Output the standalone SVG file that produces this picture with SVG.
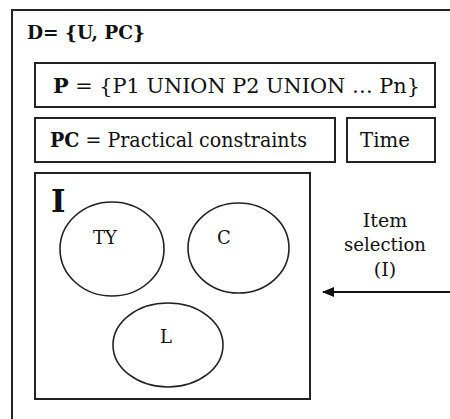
<svg xmlns="http://www.w3.org/2000/svg" width="450" height="419" viewBox="0 0 450 419">
  <defs>
    <style>
      .box { fill: none; stroke: #222; stroke-width: 2; }
      .set { fill: none; stroke: #222; stroke-width: 1.6; }
      .txt { font-family: "DejaVu Serif", "Liberation Serif", serif; fill: #111; }
      .b { font-weight: bold; }
      .conn { stroke: #111; stroke-width: 2; fill: none; }
    </style>
    <marker id="arrow" viewBox="0 0 12 10" refX="11" refY="5" markerWidth="12" markerHeight="10" markerUnits="userSpaceOnUse" orient="auto">
      <path d="M0,0 L12,5 L0,10 Z" fill="#111"/>
    </marker>
  </defs>
  <rect width="450" height="419" fill="#fff"/>

  <!-- domain D -->
  <g id="domain">
    <rect class="box" x="12" y="10" width="460" height="430"/>
    <text class="txt b" x="27" y="39" font-size="19" textLength="118" lengthAdjust="spacingAndGlyphs">D= {U, PC}</text>
  </g>

  <!-- P -->
  <g id="p-set">
    <rect class="box" x="35" y="63" width="400" height="44"/>
    <text class="txt" x="53" y="93" font-size="20.5" textLength="367" lengthAdjust="spacingAndGlyphs"><tspan class="b">P</tspan> = {P1 UNION P2 UNION … Pn}</text>
  </g>

  <!-- PC -->
  <g id="pc">
    <rect class="box" x="35" y="118" width="300" height="44"/>
    <text class="txt" x="50" y="147" font-size="20.5" textLength="257" lengthAdjust="spacingAndGlyphs"><tspan class="b">PC</tspan> = Practical constraints</text>
  </g>

  <!-- Time -->
  <g id="time">
    <rect class="box" x="347" y="118" width="88" height="44"/>
    <text class="txt" x="385" y="147" font-size="20.5" text-anchor="middle" textLength="50" lengthAdjust="spacingAndGlyphs">Time</text>
  </g>

  <!-- I -->
  <g id="items">
    <rect class="box" x="35" y="173" width="275" height="226"/>
    <text class="txt b" x="51" y="212" font-size="31">I</text>
  </g>

  <g id="ty">
    <ellipse class="set" cx="112" cy="249" rx="52" ry="47"/>
    <text class="txt" x="105" y="244" font-size="18" text-anchor="middle">TY</text>
  </g>

  <g id="c">
    <ellipse class="set" cx="238.5" cy="248" rx="50.5" ry="45"/>
    <text class="txt" x="224" y="244" font-size="18" text-anchor="middle">C</text>
  </g>

  <g id="l">
    <ellipse class="set" cx="168" cy="345" rx="55" ry="42"/>
    <text class="txt" x="166" y="343" font-size="18" text-anchor="middle">L</text>
  </g>

  <g id="item-selection">
    <text class="txt" x="385" y="227" font-size="19" text-anchor="middle">Item</text>
    <text class="txt" x="385" y="251" font-size="19" text-anchor="middle" textLength="82" lengthAdjust="spacingAndGlyphs">selection</text>
    <text class="txt" x="385" y="276" font-size="19" text-anchor="middle">(I)</text>
  </g>

  <g id="connectors">
    <line class="conn" x1="450" y1="292" x2="323" y2="292" marker-end="url(#arrow)"/>
  </g>
</svg>
